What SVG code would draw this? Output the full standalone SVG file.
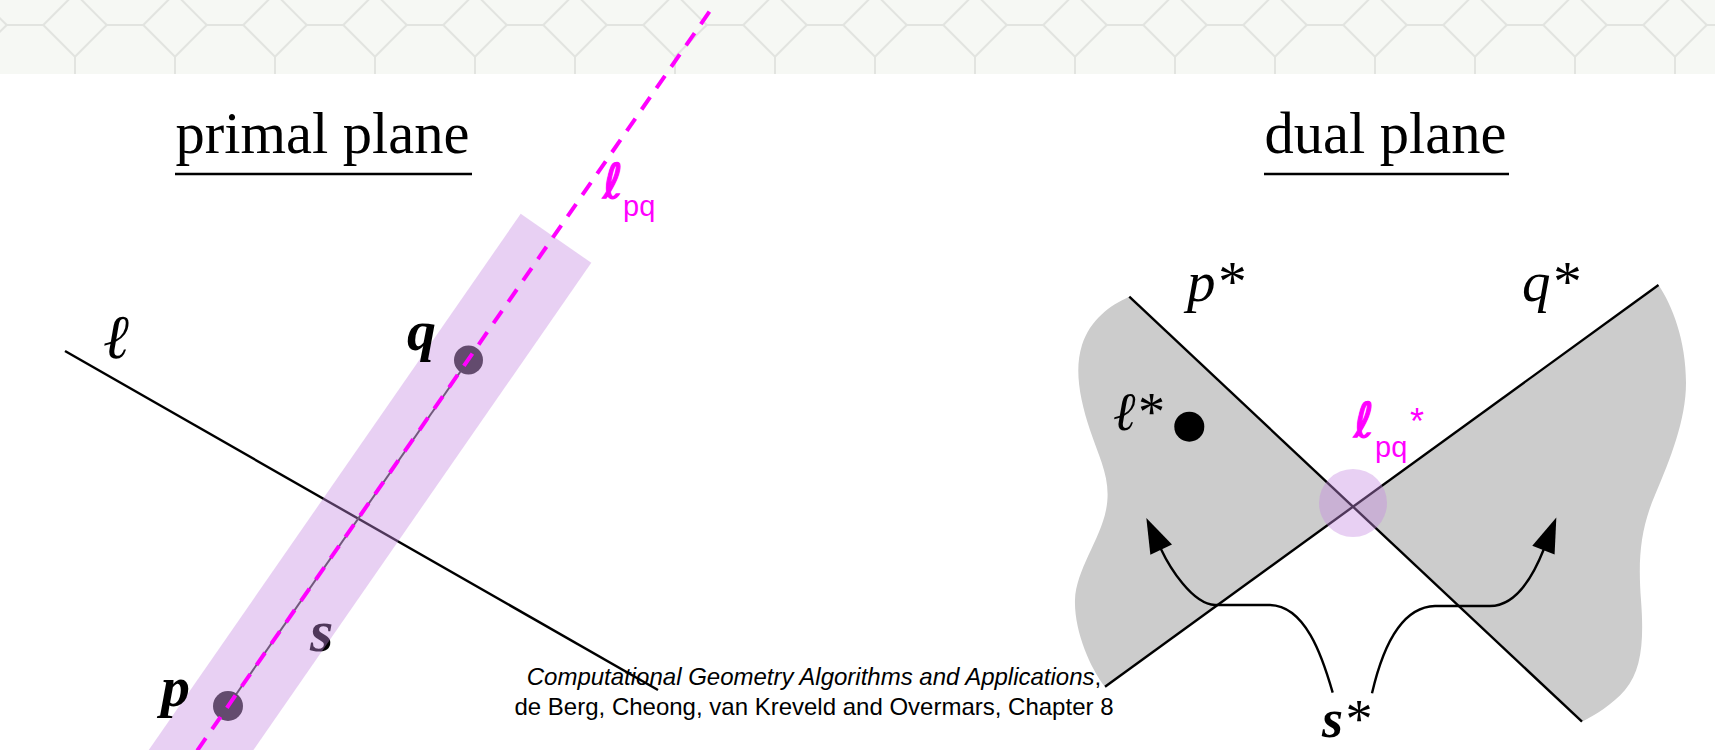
<svg xmlns="http://www.w3.org/2000/svg" width="1715" height="750" viewBox="0 0 1715 750">
<defs>
<pattern id="tiles" width="100" height="100" patternUnits="userSpaceOnUse">
<rect width="100" height="100" fill="#f6f8f4"/>
<path d="M6.7,25 H43.3 M75,56.7 V93.3 M43.3,25 L75,56.7 M43.3,25 L75,-6.7 M6.7,25 L-25,56.7 M6.7,25 L-25,-6.7 M106.7,25 L75,56.7 M106.7,25 L75,-6.7 M43.3,125 L75,93.3 M106.7,125 L75,93.3" stroke="#e2e4e0" stroke-width="2" fill="none"/>
</pattern>
<marker id="arrow" markerUnits="userSpaceOnUse" markerWidth="36" markerHeight="24" viewBox="0 0 35 24" refX="1" refY="12" orient="auto">
<path d="M0,0 L35,12 L0,24 z" fill="#000"/>
</marker>
</defs>
<style>
.title{font-family:"Liberation Serif","Times New Roman",serif;font-size:58.5px;fill:#000}
.rule{stroke:#000;stroke-width:2.5}
.math{font-family:"Liberation Serif","DejaVu Serif",serif;font-style:italic;fill:#000}
.bold{font-weight:bold}
.mag{font-family:"Liberation Sans",Arial,sans-serif;fill:#ff00ff}
.ell{font-family:"DejaVu Sans","Liberation Sans",sans-serif;fill:#ff00ff;stroke:#ff00ff;stroke-width:1.2}
.line{stroke:#000;stroke-width:2.4;fill:none}
.lilac{fill:#c58ae1;fill-opacity:0.4}
.lobe{fill:#cccccc}
.cap{font-family:"Liberation Sans",Arial,sans-serif;font-size:24px;fill:#000;text-anchor:middle}
</style>
<rect width="1715" height="750" fill="#ffffff"/>
<rect id="header" width="1715" height="74" fill="url(#tiles)"/>

<g id="primal-title">
<text class="title" x="175.5" y="153">primal plane</text>
<line class="rule" x1="175" y1="174" x2="472" y2="174"/>
</g>
<g id="dual-title">
<text class="title" x="1264.5" y="153">dual plane</text>
<line class="rule" x1="1264" y1="174" x2="1509" y2="174"/>
</g>

<g id="primal">
<g id="line-l"><line class="line" x1="65" y1="351" x2="658" y2="690"/></g>
<g id="segment-s"><line x1="228" y1="706" x2="468.5" y2="360" stroke="#3a3a3a" stroke-width="2"/></g>
<g id="point-p"><circle cx="228" cy="706" r="15" fill="#222"/></g>
<g id="point-q"><circle cx="468.5" cy="360" r="14.5" fill="#222"/></g>
<text class="math bold" x="310" y="651" font-size="60" fill="#3a3a3a">s</text>
<polygon id="band" class="lilac" points="520.7,213.8 591.3,262.8 197.4,830.8 126.7,781.8"/>
<g id="line-lpq"><line x1="709.4" y1="11.7" x2="190" y2="761" stroke="#ff00ff" stroke-width="4" stroke-dasharray="15 11"/></g>
<text class="math" x="103" y="358" font-size="62">ℓ</text>
<text class="math bold" x="407" y="350" font-size="58">q</text>
<text class="math bold" x="161" y="706" font-size="58">p</text>
<text class="ell" x="603" y="198" font-size="48" font-style="italic">ℓ</text>
<text class="mag" x="623" y="216" font-size="29">pq</text>
</g>

<g id="dual">
<path id="lobe-left" class="lobe" d="M1129.3,296.7 L1353.3,506.5 L1105,686.7 C1090,668 1074,630 1075,600 C1076,570 1100,540 1106,510 C1112,480 1100,460 1090,430 C1080,400 1074,370 1082,345 C1090,320 1110,305 1129.3,296.7 Z"/>
<path id="lobe-right" class="lobe" d="M1353.3,506.5 L1658.5,285 C1672,305 1686,340 1686,383 C1686,420 1670,460 1655,495 C1640,530 1638,560 1641,600 C1644,640 1642,670 1625,690 C1612,705 1595,715 1582,721.7 Z"/>
<g id="line-p-star"><line class="line" x1="1129.3" y1="296.7" x2="1582" y2="721.7"/></g>
<g id="line-q-star"><line class="line" x1="1658.5" y1="285" x2="1105" y2="686.7"/></g>
<g id="point-l-star"><circle cx="1189.3" cy="426.7" r="15" fill="#000"/></g>
<g id="point-lpq-star"><circle class="lilac" cx="1353" cy="503" r="34"/></g>
<text class="math" x="1187" y="301" font-size="57">p*</text>
<text class="math" x="1522" y="301" font-size="57">q*</text>
<text class="math" x="1113" y="430" font-size="54">ℓ*</text>
<text class="math" x="1322" y="737" font-size="54"><tspan font-weight="bold">s</tspan>*</text>
<text class="ell" x="1354" y="437" font-size="48" font-style="italic">ℓ</text>
<text class="mag" x="1375" y="457" font-size="29">pq</text>
<text class="mag" x="1410" y="434" font-size="36">*</text>
</g>

<g id="connectors">
<path class="line" marker-end="url(#arrow)" d="M1332.7,692.7 C1322,655 1305,606 1270,605 L1215,605 C1192,604 1169.3,566.8 1160.8,548.7"/>
<path class="line" marker-end="url(#arrow)" d="M1372,693.3 C1382,650 1400,607 1435,606 L1490,606 C1518,606 1534.6,572.4 1543.8,549.2"/>
</g>

<g id="caption">
<text class="cap" x="814" y="685"><tspan font-style="italic">Computational Geometry Algorithms and Applications</tspan>,</text>
<text class="cap" x="814" y="715">de Berg, Cheong, van Kreveld and Overmars, Chapter 8</text>
</g>
</svg>
